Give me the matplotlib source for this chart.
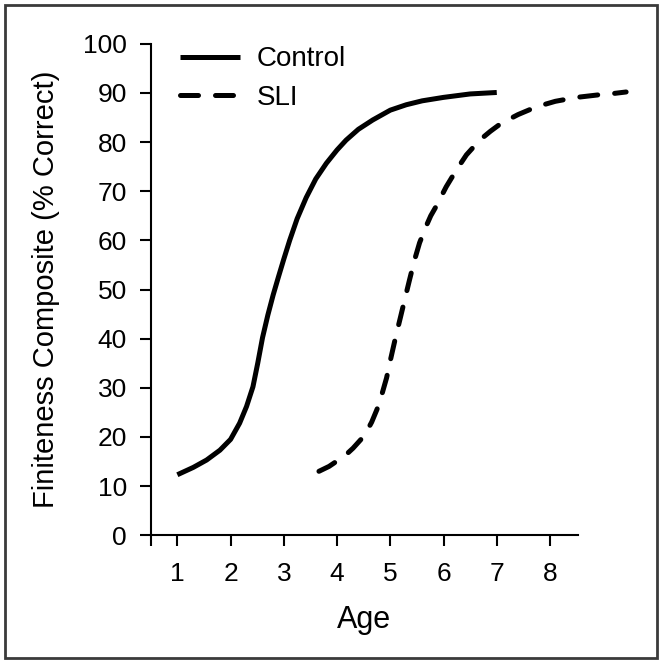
import matplotlib
matplotlib.use("Agg")
import matplotlib.pyplot as plt
from matplotlib.patches import Rectangle

plt.rcParams['font.family'] = ['Liberation Sans', 'DejaVu Sans']

# values
control_age = [1.0, 1.3, 1.55, 1.8, 2.0, 2.17, 2.3, 2.42, 2.51, 2.6, 2.7, 2.8, 2.9, 3.0,
               3.11, 3.25, 3.42, 3.6, 3.8, 4.0, 4.17, 4.4, 4.67, 5.0, 5.3, 5.6, 6.0, 6.5, 7.0]
control_score = [12.3, 13.8, 15.3, 17.3, 19.5, 22.8, 26.2, 30.2, 35, 40.2, 44.8, 48.9, 52.6, 56.2,
                 60.0, 64.4, 68.7, 72.5, 75.7, 78.4, 80.4, 82.6, 84.5, 86.5, 87.6, 88.4, 89.1,
                 89.8, 90.1]

sli_age = [3.66, 3.85, 4.0, 4.15, 4.3, 4.45, 4.55, 4.65, 4.75, 4.83, 4.93, 5.01, 5.1, 5.19,
           5.27, 5.36, 5.45, 5.55, 5.67, 5.76, 5.86, 6.05, 6.24, 6.43, 6.68, 6.88, 7.08, 7.4,
           7.75, 8.1, 8.5, 8.9, 9.2, 9.43]
sli_score = [13, 14, 15.1, 16.2, 17.7, 19.5, 21, 23, 25.6, 28.2, 32, 36, 40.3, 44.3,
             47.9, 51.9, 55.8, 59.5, 62.8, 65, 66.9, 70.9, 74.3, 77.4, 80.4, 82.2, 83.8, 85.6,
             87.2, 88.3, 89.1, 89.6, 89.9, 90.2]

x_ticks = [1, 2, 3, 4, 5, 6, 7, 8]
y_ticks = list(range(0, 101, 10))

fig = plt.figure(figsize=(6.64, 6.64), dpi=100)
ax = fig.add_axes([0.227, 0.194, 0.643, 0.740])

ax.plot(control_age, control_score, color='black', lw=3.6, solid_capstyle='butt',
        solid_joinstyle='round', label='Control', clip_on=False)
ax.plot(sli_age, sli_score, color='black', lw=3.6, linestyle=(0, (3.6, 3.4)),
        dash_capstyle='round', label='SLI', clip_on=False)

ax.set_xlim(0.5, 8.52)
ax.set_ylim(0, 100)
ax.set_xticks([0.5] + x_ticks)
ax.set_xticklabels([''] + [str(t) for t in x_ticks])
ax.set_yticks(y_ticks)

for side in ('top', 'right'):
    ax.spines[side].set_visible(False)
for side in ('left', 'bottom'):
    ax.spines[side].set_linewidth(1.5)

ax.tick_params(axis='both', direction='out', length=8, width=1.5, labelsize=19)
ax.tick_params(axis='y', pad=9)
ax.tick_params(axis='x', pad=11)

ax.set_xlabel('Age', fontsize=22, labelpad=14)
ax.set_ylabel('Finiteness Composite (% Correct)', fontsize=21, labelpad=17)

ax.legend(loc='upper left', bbox_to_anchor=(0.068, 0.995), frameon=False, fontsize=20,
          handlelength=2.16, handletextpad=0.6, labelspacing=0.45,
          borderaxespad=0, borderpad=0)

fig.patches.append(Rectangle((0.0068, 0.009), 0.9827, 0.9835, transform=fig.transFigure,
                             fill=False, edgecolor='#3a3a3a', lw=2))

fig.savefig('out.png', dpi=100)
